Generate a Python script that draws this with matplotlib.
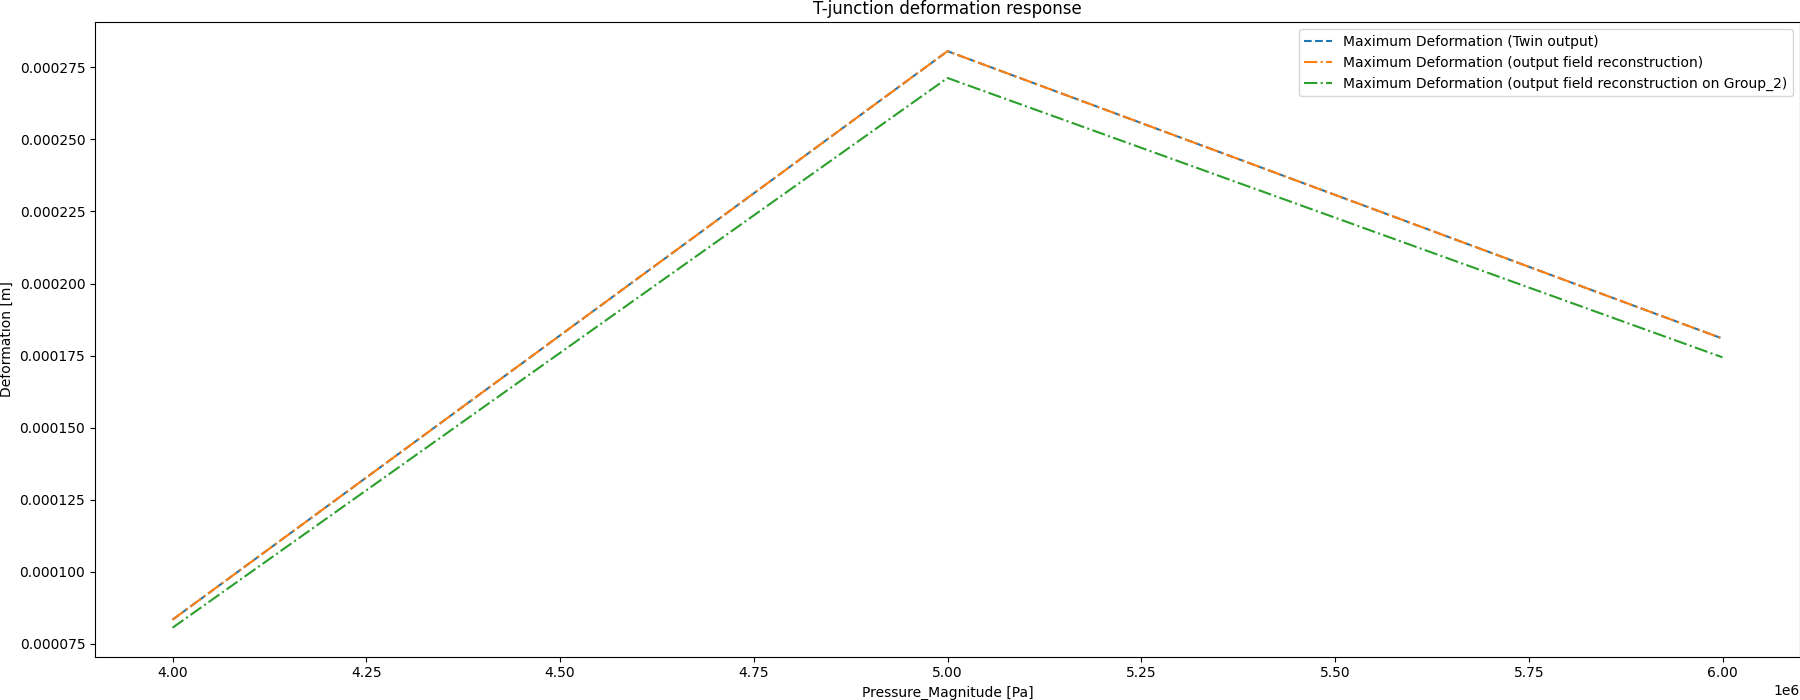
import matplotlib
matplotlib.use("Agg")
import matplotlib.pyplot as plt
import numpy as np

# ======================= Data ==========================
pressure = [4.0e6, 5.0e6, 6.0e6]
twin_output = [0.0000834, 0.0002806, 0.0001809]
field_recon = [0.0000834, 0.0002806, 0.0001809]
field_recon_group2 = [0.0000806, 0.0002713, 0.0001744]

# ======================= Plot ==========================
fig, ax = plt.subplots(figsize=(18, 7), dpi=100)
ax.plot(pressure, twin_output, "--", label="Maximum Deformation (Twin output)")
ax.plot(pressure, field_recon, "-.", label="Maximum Deformation (output field reconstruction)")
ax.plot(
    pressure,
    field_recon_group2,
    "-.",
    label="Maximum Deformation (output field reconstruction on Group_2)",
)
ax.set_xlabel("Pressure_Magnitude [Pa]")
ax.set_ylabel("Deformation [m]")
ax.set_title("T-junction deformation response")
ax.legend()
plt.tight_layout(pad=0.0)
plt.savefig("out.png")
